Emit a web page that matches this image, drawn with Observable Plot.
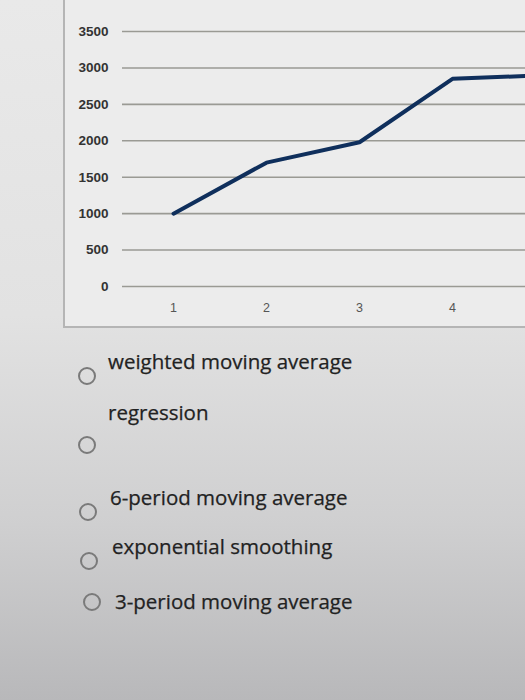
<!DOCTYPE html>
<html>
<head>
<meta charset="utf-8">
<script src="https://cdn.jsdelivr.net/npm/d3@7"></script>
<script src="https://cdn.jsdelivr.net/npm/@observablehq/plot@0.6"></script>
<style>
  html, body { margin: 0; padding: 0; }
  body {
    width: 525px; height: 700px; overflow: hidden; position: relative;
    background: linear-gradient(180deg, #e9e9e9 0%, #e2e2e2 45%, #cfcfd0 75%, #b8b8ba 100%);
    font-family: "Open Sans", sans-serif;
  }
  #frame {
    position: absolute; left: 63px; top: -4px; width: 600px; height: 330px;
    border-left: 2px solid #b5b5b5; border-bottom: 2px solid #b5b5b5;
    background: #ececec;
  }
  #chart { position: absolute; left: 0; top: 0; width: 592px; }
  #chart svg { max-width: none !important; }
  .opt { position: absolute; font-size: 20.5px; line-height: 20px; color: #222; white-space: nowrap; -webkit-text-stroke: 0.25px #222; }
  .radio { position: absolute; width: 14px; height: 14px; border: 2px solid #7a7a7a; border-radius: 50%; }
</style>
</head>
<body>
<div id="frame"></div>
<div id="chart"></div>
<div id="options"></div>
<script>
const periods = [1, 2, 3, 4, 5];
const values = [1000, 1700, 1980, 2850, 2900];
const yTicks = [0, 500, 1000, 1500, 2000, 2500, 3000, 3500];
const optionLabels = ["weighted moving average", "regression", "6-period moving average", "exponential smoothing", "3-period moving average"];

const data = periods.map((p, i) => ({period: p, value: values[i]}));

const chart = Plot.plot({
  width: 592,
  height: 330,
  marginLeft: 125,
  marginRight: 0,
  marginTop: 31,
  marginBottom: 44,
  style: {background: "transparent", fontFamily: "Liberation Sans, Arial, sans-serif", maxWidth: "none"},
  x: {type: "point", domain: periods, padding: 0.5, label: null},
  y: {domain: [0, 3500], ticks: yTicks, label: null},
  marks: [
    Plot.ruleY(yTicks, {stroke: "#9a9a94", strokeWidth: 1.6, insetLeft: -3}),
    Plot.axisY({ticks: yTicks, tickFormat: d => String(d), tickSize: 0, tickPadding: 17, fontSize: 13.5, fontWeight: "bold", fill: "#333", label: null}),
    Plot.axisX({ticks: periods.slice(0, 4), tickSize: 0, tickPadding: 17, fontSize: 12.5, fill: "#555", label: null}),
    Plot.line(data, {x: "period", y: "value", stroke: "#0f2f5c", strokeWidth: 4, strokeLinejoin: "miter"})
  ]
});
document.getElementById("chart").appendChild(chart);

const textPos = [[108, 351], [108, 402], [110, 487], [112, 536], [115, 591]];
const radioPos = [[87, 376], [87, 445], [88, 512], [89, 561], [92, 602]];
const opts = document.getElementById("options");
optionLabels.forEach((label, i) => {
  const r = document.createElement("div");
  r.className = "radio";
  r.style.left = (radioPos[i][0] - 9) + "px";
  r.style.top = (radioPos[i][1] - 9) + "px";
  opts.appendChild(r);
  const t = document.createElement("div");
  t.className = "opt";
  t.textContent = label;
  t.style.left = textPos[i][0] + "px";
  t.style.top = textPos[i][1] + "px";
  opts.appendChild(t);
});
</script>
</body>
</html>
